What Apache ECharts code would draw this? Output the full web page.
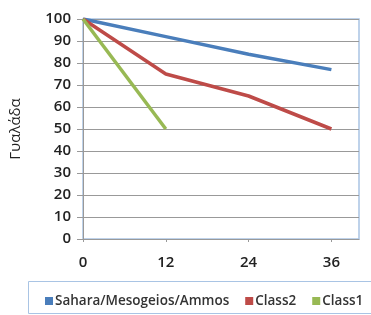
<!DOCTYPE html>
<html>
<head>
<meta charset="utf-8">
<script src="https://cdn.jsdelivr.net/npm/echarts@6/dist/echarts.min.js"></script>
<style>
html,body{margin:0;padding:0;background:#fff;}
#chart{width:371px;height:315px;}
</style>
</head>
<body>
<div id="chart"></div>
<script>
var seriesNames = ['Sahara/Mesogeios/Ammos', 'Class2', 'Class1'];
var months = [0, 12, 24, 36];
var saharaVals = [100, 92, 84, 77];
var class2Vals = [100, 75, 65, 50];
var class1Vals = [100, 50];
var colors = ['#4a7ebb', '#be4b48', '#98b954'];

(function() {
    var chart = echarts.init(document.getElementById('chart'));

    function pairs(vals) {
        var out = [];
        for (var i = 0; i < vals.length; i++) {
            out.push([months[i], vals[i]]);
        }
        return out;
    }

    var allVals = [saharaVals, class2Vals, class1Vals];
    var series = seriesNames.map(function(name, i) {
        return {
            name: name,
            type: 'line',
            data: pairs(allVals[i]),
            symbol: 'none',
            lineStyle: { color: colors[i], width: 3.5 },
            itemStyle: { color: colors[i] }
        };
    });

    var option = {
        animation: false,
        textStyle: { fontFamily: 'Open Sans' },
        grid: {
            left: 83, right: 12, top: 19, bottom: 76,
            outerBoundsMode: 'none',
            show: true, borderColor: '#a9c4e4', borderWidth: 1.5
        },
        graphic: [{
            type: 'rect',
            left: 28, top: 281,
            shape: { width: 360, height: 32 },
            style: { fill: '#fff', stroke: '#a9c4e4', lineWidth: 1 }
        }],
        legend: {
            data: seriesNames,
            left: 40, top: 289,
            itemWidth: 8, itemHeight: 8, itemGap: 16,
            icon: 'rect',
            textStyle: { fontSize: 13.5, fontWeight: 600, color: '#333', padding: [0, 0, 0, -3] }
        },
        xAxis: {
            type: 'value',
            min: 0, max: 40, interval: 12,
            axisLine: { show: true, lineStyle: { color: '#999' } },
            axisTick: { show: true, length: 3, lineStyle: { color: '#999' } },
            axisLabel: { showMaxLabel: false, fontSize: 15, fontWeight: 600, color: '#222', margin: 16 },
            splitLine: { show: false }
        },
        yAxis: {
            type: 'value',
            min: 0, max: 100, interval: 10,
            name: 'Γυαλάδα',
            nameLocation: 'middle',
            nameGap: 60,
            nameRotate: 90,
            nameTextStyle: { fontSize: 15, color: '#222' },
            axisLine: { show: true, lineStyle: { color: '#999' } },
            axisTick: { show: true, length: 6, lineStyle: { color: '#999' } },
            axisLabel: { fontSize: 15, fontWeight: 600, color: '#222', margin: 12 },
            splitLine: { lineStyle: { color: '#999' } }
        },
        series: series
    };
    chart.setOption(option);
})();
</script>
</body>
</html>
